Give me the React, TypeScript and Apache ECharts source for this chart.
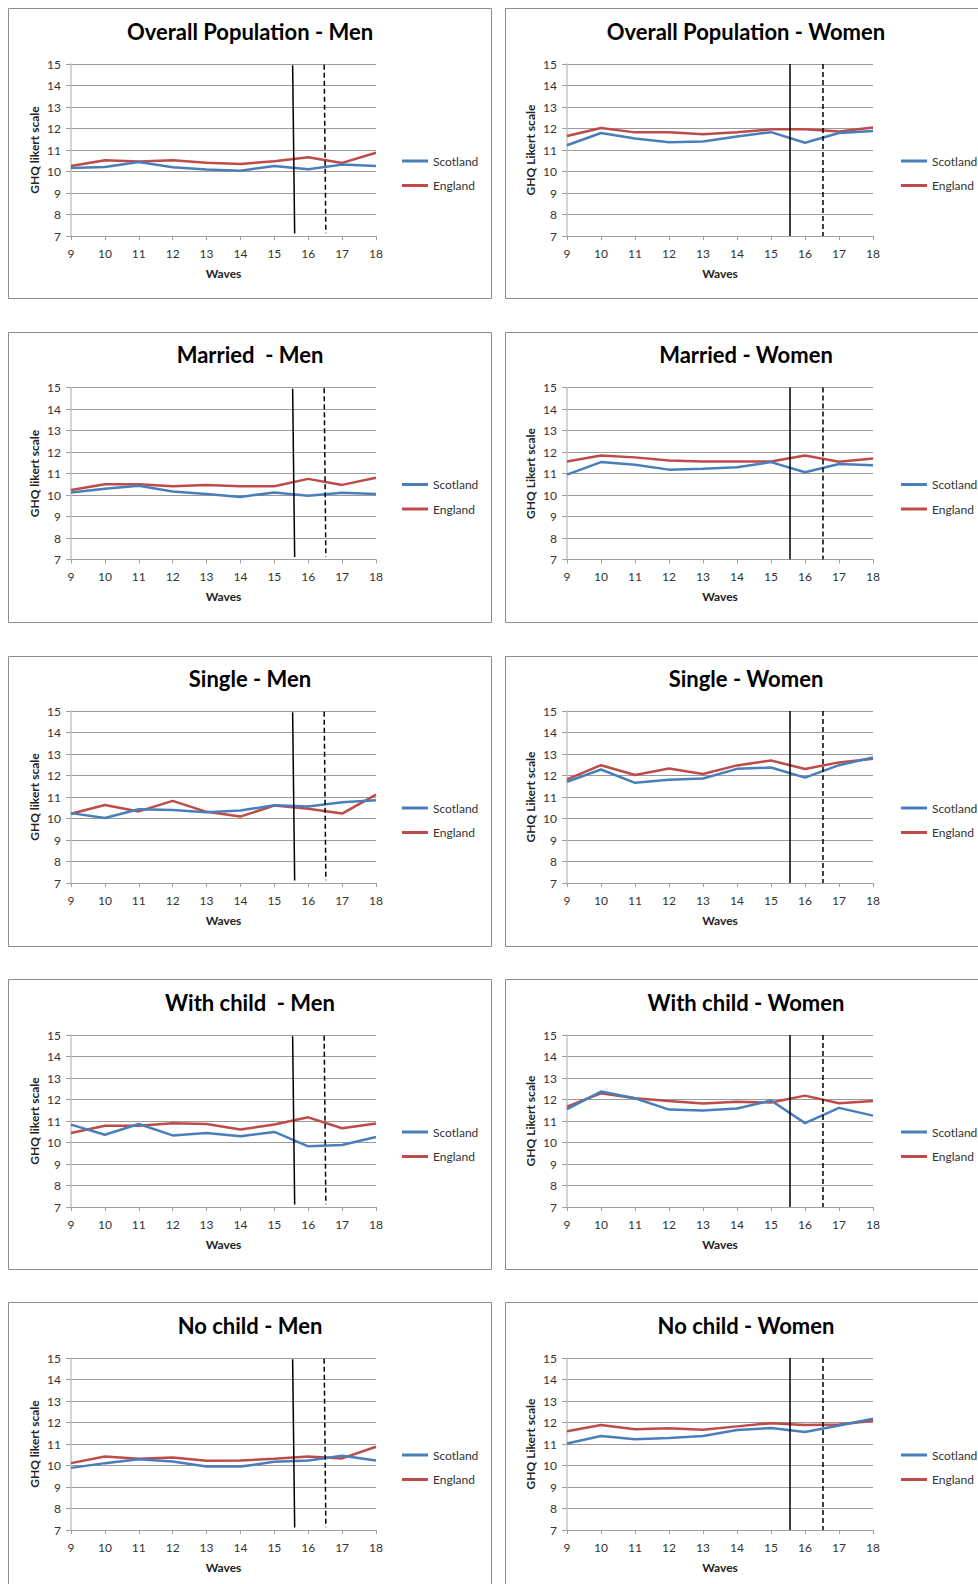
import React, { useEffect, useRef } from "react";
import * as echarts from "echarts";

const waves = [9, 10, 11, 12, 13, 14, 15, 16, 17, 18];

const panelTitles = [
  "Overall Population - Men",
  "Overall Population - Women",
  "Married  - Men",
  "Married - Women",
  "Single - Men",
  "Single - Women",
  "With child  - Men",
  "With child - Women",
  "No child - Men",
  "No child - Women",
];

const overallMenScotland = [10.16, 10.21, 10.44, 10.2, 10.09, 10.04, 10.26, 10.1, 10.32, 10.26];
const overallMenEngland = [10.26, 10.52, 10.46, 10.52, 10.41, 10.35, 10.48, 10.66, 10.4, 10.87];
const overallWomenScotland = [11.22, 11.79, 11.53, 11.36, 11.4, 11.63, 11.83, 11.34, 11.79, 11.88];
const overallWomenEngland = [11.65, 12.02, 11.82, 11.82, 11.73, 11.82, 11.96, 11.96, 11.86, 12.05];
const marriedMenScotland = [10.12, 10.29, 10.43, 10.16, 10.05, 9.91, 10.12, 9.96, 10.1, 10.05];
const marriedMenEngland = [10.23, 10.5, 10.5, 10.41, 10.46, 10.41, 10.41, 10.75, 10.47, 10.8];
const marriedWomenScotland = [10.95, 11.53, 11.41, 11.18, 11.22, 11.29, 11.53, 11.06, 11.44, 11.38];
const marriedWomenEngland = [11.56, 11.84, 11.75, 11.61, 11.56, 11.56, 11.56, 11.84, 11.55, 11.7];
const singleMenScotland = [10.25, 10.02, 10.43, 10.4, 10.29, 10.37, 10.62, 10.56, 10.76, 10.85];
const singleMenEngland = [10.22, 10.63, 10.33, 10.82, 10.31, 10.09, 10.6, 10.45, 10.23, 11.11];
const singleWomenScotland = [11.71, 12.28, 11.66, 11.8, 11.86, 12.31, 12.37, 11.9, 12.48, 12.84];
const singleWomenEngland = [11.82, 12.48, 12.02, 12.33, 12.07, 12.47, 12.7, 12.3, 12.61, 12.78];
const childMenScotland = [10.83, 10.36, 10.86, 10.33, 10.44, 10.29, 10.49, 9.82, 9.88, 10.26];
const childMenEngland = [10.44, 10.78, 10.78, 10.89, 10.86, 10.6, 10.84, 11.17, 10.66, 10.88];
const childWomenScotland = [11.55, 12.37, 12.06, 11.53, 11.49, 11.58, 11.95, 10.9, 11.61, 11.25];
const childWomenEngland = [11.67, 12.29, 12.06, 11.93, 11.81, 11.89, 11.86, 12.18, 11.83, 11.93];
const noChildMenScotland = [9.89, 10.11, 10.29, 10.19, 9.95, 9.95, 10.17, 10.23, 10.45, 10.23];
const noChildMenEngland = [10.11, 10.42, 10.31, 10.37, 10.22, 10.23, 10.31, 10.42, 10.33, 10.87];
const noChildWomenScotland = [11.02, 11.37, 11.22, 11.28, 11.37, 11.65, 11.74, 11.56, 11.86, 12.17];
const noChildWomenEngland = [11.59, 11.88, 11.69, 11.73, 11.66, 11.82, 11.97, 11.88, 11.91, 12.08];

const scotlandSeries = [
  overallMenScotland, overallWomenScotland, marriedMenScotland, marriedWomenScotland,
  singleMenScotland, singleWomenScotland, childMenScotland, childWomenScotland,
  noChildMenScotland, noChildWomenScotland,
];
const englandSeries = [
  overallMenEngland, overallWomenEngland, marriedMenEngland, marriedWomenEngland,
  singleMenEngland, singleWomenEngland, childMenEngland, childWomenEngland,
  noChildMenEngland, noChildWomenEngland,
];

const yAxisNames = ["GHQ likert scale", "GHQ Likert scale"];
const seriesNames = ["Scotland", "England"];

// reference lines [x, y] start/end, in data units
const leftSolidLine = [[15.54, 14.94], [15.6, 7.12]];
const leftDashedLine = [[16.47, 14.97], [16.52, 7.13]];
const rightSolidLine = [[15.54, 15], [15.54, 7]];
const rightDashedLine = [[16.51, 15], [16.51, 7]];

const FONT = "Lato, 'Open Sans', sans-serif";
const BLUE = "#4a7ebb";
const RED = "#be4b48";

const boxTops = [8, 332, 656, 979, 1302];
const plotTops = [64, 387.5, 711, 1035, 1358];
const plotHeight = 172;
const plotLeft = [71, 567];
const plotWidth = [305, 306];
const boxLeft = [8.5, 505.5];
const boxWidth = [483, 490];
const titleCenters = [250, 746];
const legendLeft = [402, 901];

function buildOption() {
  const grid: any[] = [];
  const xAxis: any[] = [];
  const yAxis: any[] = [];
  const series: any[] = [];
  const title: any[] = [];
  const legend: any[] = [];
  const graphic: any[] = [];

  for (let i = 0; i < panelTitles.length; i++) {
    const col = i % 2;
    const row = Math.floor(i / 2);
    const top = plotTops[row];

    graphic.push({
      type: "rect",
      silent: true,
      z: -10,
      shape: {
        x: boxLeft[col],
        y: boxTops[row] + 0.5,
        width: boxWidth[col],
        height: row === 4 ? 400 : 290,
      },
      style: { fill: "#fff", stroke: "#8c8c8c", lineWidth: 1 },
    });

    grid.push({
      left: plotLeft[col],
      top,
      width: plotWidth[col],
      height: plotHeight,
      containLabel: false,
    });

    title.push({
      text: panelTitles[i],
      left: titleCenters[col],
      top: top - 44,
      textAlign: "center",
      padding: 0,
      textStyle: { fontFamily: FONT, fontWeight: "bold", fontSize: 22, color: "#000" },
    });

    legend.push({
      orient: "vertical",
      left: legendLeft[col],
      top: top + 91,
      padding: 0,
      icon: "rect",
      itemWidth: 26,
      itemHeight: 3,
      itemGap: 12.5,
      data: seriesNames,
      selectedMode: false,
      textStyle: { fontFamily: FONT, fontSize: 12, color: "#333" },
    });

    xAxis.push({
      gridIndex: i,
      type: "value",
      min: 9,
      max: 18,
      interval: 1,
      name: "Waves",
      nameLocation: "middle",
      nameGap: 31,
      nameTextStyle: { fontFamily: FONT, fontWeight: "bold", fontSize: 12, color: "#222" },
      axisLine: { show: true, lineStyle: { color: "#a0a0a0", width: 1 } },
      axisTick: { show: true, length: 4, lineStyle: { color: "#a0a0a0" } },
      axisLabel: { margin: 11, fontFamily: FONT, fontSize: 12, color: "#333" },
      splitLine: { show: false },
    });

    yAxis.push({
      gridIndex: i,
      type: "value",
      min: 7,
      max: 15,
      interval: 1,
      name: yAxisNames[col],
      nameLocation: "middle",
      nameGap: 31,
      nameRotate: 90,
      nameTextStyle: { fontFamily: FONT, fontWeight: "bold", fontSize: 12, color: "#222" },
      axisLine: { show: true, lineStyle: { color: "#c4c4c4", width: 1.5 } },
      axisTick: { show: true, length: 5, lineStyle: { color: "#a0a0a0" } },
      axisLabel: { margin: 10, fontFamily: FONT, fontSize: 12, color: "#333" },
      splitLine: { show: true, lineStyle: { color: "#9a9a9a", width: 1 } },
    });

    const solid = col === 0 ? leftSolidLine : rightSolidLine;
    const dashed = col === 0 ? leftDashedLine : rightDashedLine;

    series.push({
      name: seriesNames[0],
      type: "line",
      xAxisIndex: i,
      yAxisIndex: i,
      symbol: "none",
      z: 3,
      lineStyle: { color: BLUE, width: 2.5 },
      itemStyle: { color: BLUE },
      data: waves.map((w, k) => [w, scotlandSeries[i][k]]),
      markLine: {
        silent: true,
        symbol: ["none", "none"],
        label: { show: false },
        z: 5,
        data: [
          [
            { coord: solid[0], lineStyle: { color: "#000", width: 1.5, type: "solid" } },
            { coord: solid[1] },
          ],
          [
            { coord: dashed[0], lineStyle: { color: "#000", width: 1.5, type: [5, 3] } },
            { coord: dashed[1] },
          ],
        ],
      },
    });
    series.push({
      name: seriesNames[1],
      type: "line",
      xAxisIndex: i,
      yAxisIndex: i,
      symbol: "none",
      z: 2,
      lineStyle: { color: RED, width: 2.5 },
      itemStyle: { color: RED },
      data: waves.map((w, k) => [w, englandSeries[i][k]]),
    });
  }

  return {
    animation: false,
    backgroundColor: "#fff",
    graphic,
    title,
    legend,
    grid,
    xAxis,
    yAxis,
    series,
  };
}

export default function App() {
  const ref = useRef<HTMLDivElement>(null);
  useEffect(() => {
    if (!ref.current) return;
    const chart = echarts.init(ref.current, undefined, { renderer: "svg" });
    chart.setOption(buildOption());
    return () => chart.dispose();
  }, []);
  return (
    <div
      ref={ref}
      style={{ position: "absolute", left: 0, top: 0, width: 978, height: 1584, background: "#fff" }}
    />
  );
}
